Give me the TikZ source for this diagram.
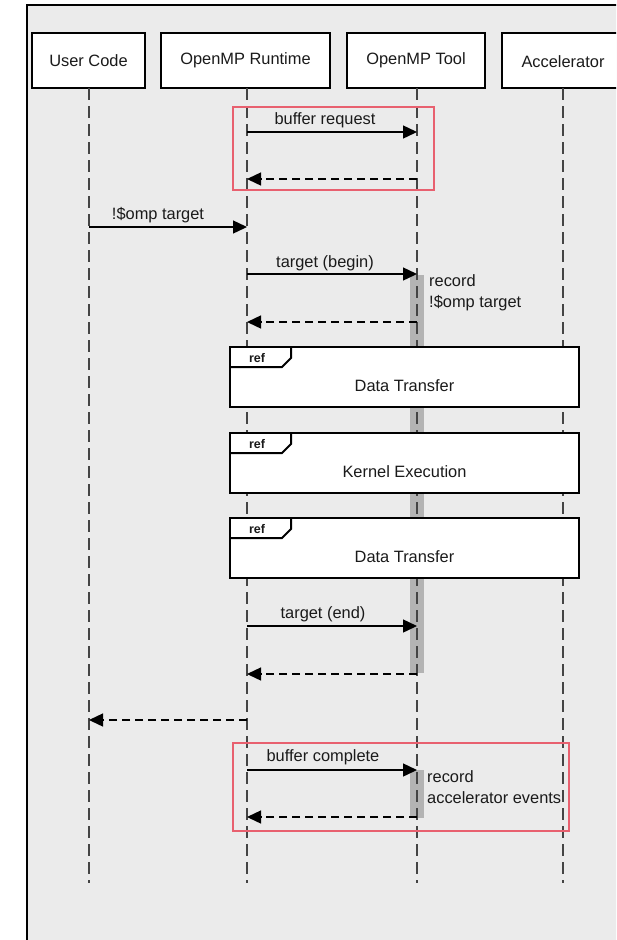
\documentclass[tikz,border=0pt]{standalone}
\usepackage{fontspec}
\setmainfont{Liberation Sans}
\usetikzlibrary{arrows.meta}

\definecolor{canvas}{HTML}{EBEBEB}
\definecolor{lifegray}{HTML}{444444}
\definecolor{actgray}{HTML}{B3B3B3}
\definecolor{hilite}{HTML}{E8606F}
\definecolor{ink}{HTML}{1A1A1A}

\tikzset{
  headbox/.style={draw=black, line width=2.4pt, fill=white, minimum height=55pt,
    inner sep=0pt, font=\fontsize{16.4}{20}\selectfont, text=ink},
  lifeline/.style={draw=lifegray, line width=1.8pt, dash pattern=on 12pt off 6pt},
  callmsg/.style={draw=black, line width=1.4pt, -{Triangle[length=14pt,width=13pt]}},
  retmsg/.style={draw=black, line width=1.4pt, dash pattern=on 8pt off 5pt,
    -{Triangle[length=14pt,width=13pt]}},
  msglabel/.style={font=\fontsize{16.4}{20}\selectfont, text=ink, inner sep=0pt},
  notetext/.style={font=\fontsize{16.4}{21}\selectfont, text=ink, inner sep=0pt,
    align=left, anchor=west},
  actbar/.style={fill=actgray, draw=none, minimum width=14pt, inner sep=0pt},
  refbox/.style={draw=black, line width=2pt, fill=white, minimum width=349pt,
    minimum height=60pt, inner sep=0pt},
  reftitle/.style={font=\bfseries\fontsize{12.5}{14}\selectfont, text=ink, inner sep=0pt},
  hibox/.style={draw=hilite, line width=2pt},
}

\begin{document}
\begin{tikzpicture}[x=1pt, y=-1pt]
  \useasboundingbox (0,0) rectangle (616,940);
  \clip (0,0) rectangle (616,940);

  % canvas with its frame
  \fill[canvas] (27,5) rectangle (640,950);
  \draw[black, line width=2pt] (27,950) -- (27,5) -- (640,5);

  % participants
  \node[headbox, minimum width=113pt] (user) at (88.5,60.5) {\raisebox{-1.5pt}{User Code}};
  \node[headbox, minimum width=169pt] (rt)   at (245.5,60.5) {\raisebox{-1.5pt}{OpenMP Runtime}};
  \node[headbox, minimum width=138pt] (tool) at (416,60.5) {\raisebox{-1.5pt}{OpenMP Tool}};
  \node[headbox, minimum width=160pt] (acc)  at (582,60.5) {};
  \node[msglabel] (acctxt) at (563,62) {Accelerator};

  % lifeline ends
  \coordinate (userEnd) at (89,883);
  \coordinate (rtEnd)   at (247,883);
  \coordinate (toolEnd) at (417,883);
  \coordinate (accEnd)  at (563,883);

  % activation bars of the tool
  \node[actbar, minimum height=398pt] (act1) at (417,474) {};
  \node[actbar, minimum height=48pt]  (act2) at (417,794) {};

  % lifelines
  \draw[lifeline] (89,88) -- (userEnd);
  \draw[lifeline] (247,88) -- (rtEnd);
  \draw[lifeline] (417,88) -- (toolEnd);
  \draw[lifeline] (563,88) -- (accEnd);

  % message end points
  \coordinate (m1a) at (247,132); \coordinate (m1b) at (417,132);
  \coordinate (m2a) at (417,179); \coordinate (m2b) at (247,179);
  \coordinate (m3a) at (89,227);  \coordinate (m3b) at (247,227);
  \coordinate (m4a) at (247,274); \coordinate (m4b) at (417,274);
  \coordinate (m5a) at (417,322); \coordinate (m5b) at (247,322);
  \coordinate (m6a) at (247,626); \coordinate (m6b) at (417,626);
  \coordinate (m7a) at (417,674); \coordinate (m7b) at (247,674);
  \coordinate (m8a) at (247,720); \coordinate (m8b) at (89,720);
  \coordinate (m9a) at (247,770); \coordinate (m9b) at (417,770);
  \coordinate (m10a) at (417,817); \coordinate (m10b) at (247,817);

  % messages
  \draw[callmsg] (m1a) -- (m1b);
  \node[msglabel] (l1) at (325,120) {buffer request};
  \draw[retmsg] (m2a) -- (m2b);

  \draw[callmsg] (m3a) -- (m3b);
  \node[msglabel] (l3) at (158,215.5) {!\$omp target};

  \draw[callmsg] (m4a) -- (m4b);
  \node[msglabel] (l4) at (325,263) {target (begin)};
  \draw[retmsg] (m5a) -- (m5b);
  \node[notetext] (n1) at (429,292.5) {record\\!\$omp target};

  \draw[callmsg] (m6a) -- (m6b);
  \node[msglabel] (l6) at (323,614) {target (end)};
  \draw[retmsg] (m7a) -- (m7b);

  \draw[retmsg] (m8a) -- (m8b);

  \draw[callmsg] (m9a) -- (m9b);
  \node[msglabel] (l9) at (323,757) {buffer complete};
  \draw[retmsg] (m10a) -- (m10b);
  \node[notetext] (n2) at (427,787) {record\\accelerator events};

  % interaction references
  \foreach \nm/\cy/\txt in {ref1/377/Data Transfer, ref2/463/Kernel Execution, ref3/548/Data Transfer}{
    \node[refbox] (\nm) at (404.5,\cy) {};
    \node[msglabel] (\nm txt) at (404.5,\cy+9) {\txt};
    \draw[black, line width=2pt, line join=miter]
      (\nm.north west) ++(62,0) -- ++(0,12) -- ++(-9,9) -- ++(-53,0);
    \node[reftitle] (\nm tag) at (257,\cy-19) {ref};
  }

  % highlighted regions
  \draw[hibox] (233,107) rectangle (434,190);
  \draw[hibox] (233,743) rectangle (569,831);
\end{tikzpicture}
\end{document}
